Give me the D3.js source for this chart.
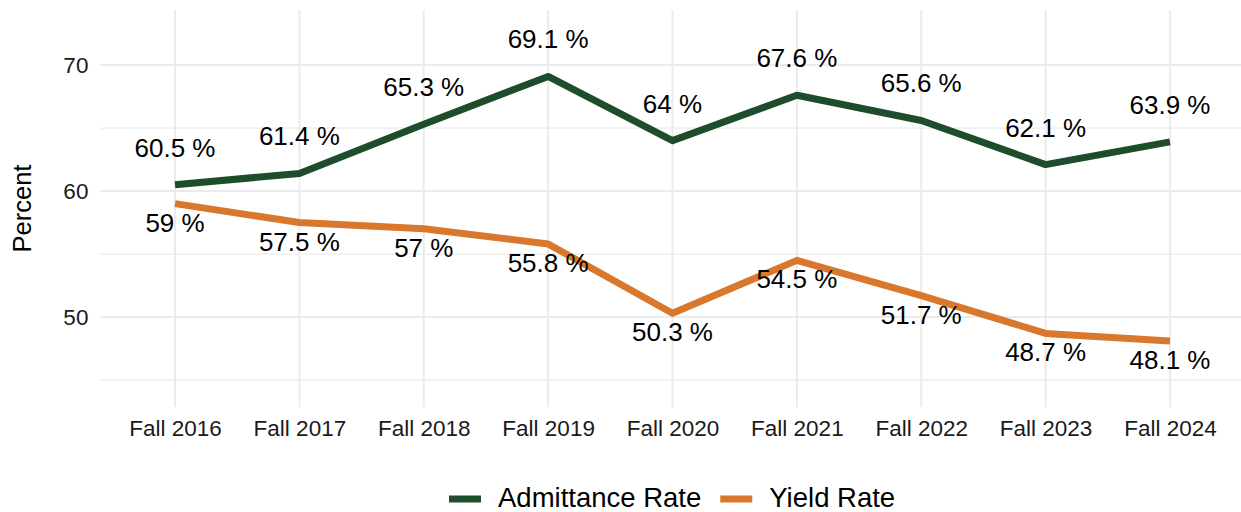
<!DOCTYPE html>
<html>
<head>
<meta charset="utf-8">
<script src="https://cdn.jsdelivr.net/npm/d3@7"></script>
<style>
  body { margin: 0; background: #fff; }
  svg { display: block; font-family: "Liberation Sans", Arial, sans-serif; }
</style>
</head>
<body>
<div id="chart"></div>
<script>
// terms shown on the x axis
const terms = ["Fall 2016", "Fall 2017", "Fall 2018", "Fall 2019", "Fall 2020",
               "Fall 2021", "Fall 2022", "Fall 2023", "Fall 2024"];
// rates in percent
const admittance = [60.5, 61.4, 65.3, 69.1, 64, 67.6, 65.6, 62.1, 63.9];
const yieldRate = [59, 57.5, 57, 55.8, 50.3, 54.5, 51.7, 48.7, 48.1];
const majorTicks = [50, 60, 70];
const minorTicks = [45, 55, 65];

const series = [
  { name: "Admittance Rate", values: admittance, color: "#1E4D2B", labelDy: -28 },
  { name: "Yield Rate", values: yieldRate, color: "#D9782D", labelDy: 28 }
];

const width = 1241, height = 512;
const panel = { left: 100.4, right: 1244.6, top: 10, bottom: 407 };

const svg = d3.select("#chart").append("svg")
  .attr("width", width)
  .attr("height", height);

const x = d3.scalePoint()
  .domain(terms)
  .range([panel.left, panel.right])
  .padding(0.6);

const y = d3.scaleLinear()
  .domain([42.86, 74.37])
  .range([panel.bottom, panel.top]);

// grid
const grid = svg.append("g").attr("class", "grid");
grid.selectAll(".minor")
  .data(minorTicks)
  .enter().append("line")
  .attr("x1", panel.left).attr("x2", panel.right)
  .attr("y1", d => y(d)).attr("y2", d => y(d))
  .attr("stroke", "#ebebeb").attr("stroke-width", 1.2);
grid.selectAll(".major")
  .data(majorTicks)
  .enter().append("line")
  .attr("x1", panel.left).attr("x2", panel.right)
  .attr("y1", d => y(d)).attr("y2", d => y(d))
  .attr("stroke", "#ebebeb").attr("stroke-width", 2);
grid.selectAll(".vert")
  .data(terms)
  .enter().append("line")
  .attr("x1", d => x(d)).attr("x2", d => x(d))
  .attr("y1", panel.top).attr("y2", panel.bottom)
  .attr("stroke", "#ebebeb").attr("stroke-width", 2);

// axes (labels only, like theme_minimal)
const yAxis = svg.append("g")
  .attr("transform", `translate(${panel.left},0)`)
  .call(d3.axisLeft(y).tickValues(majorTicks).tickSize(0).tickPadding(12));
const xAxis = svg.append("g")
  .attr("transform", `translate(0,${panel.bottom})`)
  .call(d3.axisBottom(x).tickSize(0).tickPadding(12));
[yAxis, xAxis].forEach(a => {
  a.select(".domain").remove();
  a.selectAll("text")
    .attr("font-family", "Liberation Sans, Arial, sans-serif")
    .attr("font-size", 22.5)
    .attr("fill", "#1a1a1a");
});
xAxis.selectAll("text").attr("dy", null).attr("y", 29);

svg.append("text")
  .attr("transform", `translate(31,${(panel.top + panel.bottom) / 2}) rotate(-90)`)
  .attr("text-anchor", "middle")
  .attr("font-size", 25.5)
  .attr("fill", "#000")
  .text("Percent");

// lines
const line = d3.line()
  .x((d, i) => x(terms[i]))
  .y(d => y(d));

svg.selectAll(".series")
  .data(series)
  .enter().append("path")
  .attr("d", d => line(d.values))
  .attr("fill", "none")
  .attr("stroke", d => d.color)
  .attr("stroke-width", 7)
  .attr("stroke-linejoin", "round");

// value labels: above the admittance line, below the yield line
series.forEach(s => {
  svg.append("g").selectAll("text")
    .data(s.values)
    .enter().append("text")
    .attr("x", (d, i) => x(terms[i]))
    .attr("y", d => y(d) + s.labelDy)
    .attr("text-anchor", "middle")
    .attr("font-size", 26)
    .attr("fill", "#000")
    .text(d => d + " %");
});

// legend
const legend = svg.append("g");
const items = legend.selectAll("g")
  .data(series)
  .enter().append("g");
items.append("line")
  .attr("x1", 0).attr("x2", 32)
  .attr("y1", 499).attr("y2", 499)
  .attr("stroke", d => d.color)
  .attr("stroke-width", 7);
items.append("text")
  .attr("x", 49)
  .attr("y", 507)
  .attr("font-size", 27.5)
  .attr("fill", "#000")
  .text(d => d.name);

let offset = 449;
items.each(function () {
  const g = d3.select(this);
  g.attr("transform", `translate(${offset},0)`);
  const w = g.select("text").node().getComputedTextLength();
  offset += 49 + w + 19;
});
</script>
</body>
</html>
